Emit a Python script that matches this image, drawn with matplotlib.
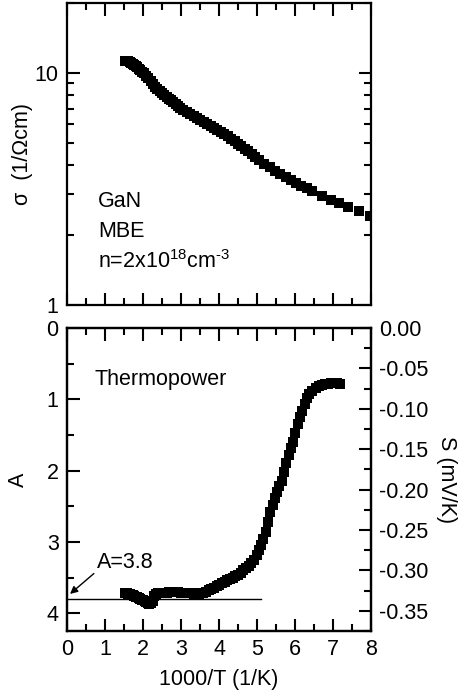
import numpy as np
import matplotlib
matplotlib.use('Agg')
import matplotlib.pyplot as plt
from matplotlib.ticker import FixedLocator, MultipleLocator, FormatStrFormatter, NullFormatter

plt.rcParams['font.family'] = ['Liberation Sans', 'DejaVu Sans']
plt.rcParams['axes.unicode_minus'] = False
plt.rcParams['mathtext.fontset'] = 'custom'
plt.rcParams['mathtext.rm'] = 'Liberation Sans'
plt.rcParams['mathtext.it'] = 'Liberation Sans'
plt.rcParams['mathtext.default'] = 'regular'

# conductividad (panel superior)
x_sig = [1.53, 1.57, 1.61, 1.65, 1.69, 1.73, 1.77, 1.81, 1.85, 1.89, 1.93, 1.97,
         2.02, 2.08, 2.14, 2.20, 2.26, 2.32, 2.38, 2.44, 2.50, 2.56, 2.62, 2.68,
         2.74, 2.80, 2.86, 2.92, 2.98,
         3.06, 3.15, 3.24, 3.33, 3.42, 3.51, 3.60, 3.69, 3.78, 3.87, 3.96, 4.05,
         4.14, 4.23, 4.32, 4.41, 4.50, 4.59, 4.68, 4.77, 4.86, 4.95,
         5.05, 5.19, 5.33, 5.47, 5.61, 5.75, 5.89, 6.03, 6.17, 6.31, 6.45,
         6.70, 6.94, 7.17, 7.40, 7.68, 7.97]
sigma = [11.3, 11.25, 11.2, 11.12, 11.03, 10.93, 10.82, 10.7, 10.57, 10.43, 10.27, 10.1,
         9.95, 9.72, 9.47, 9.2, 8.95, 8.72, 8.5, 8.32, 8.15, 8.0, 7.87, 7.75,
         7.62, 7.48, 7.33, 7.18, 7.03,
         6.9, 6.76, 6.64, 6.52, 6.4, 6.28, 6.16, 6.04, 5.92, 5.8, 5.67, 5.55,
         5.43, 5.32, 5.2, 5.08, 4.96, 4.84, 4.72, 4.6, 4.48, 4.35,
         4.2, 4.05, 3.92, 3.79, 3.67, 3.56, 3.45, 3.36, 3.27, 3.18, 3.09,
         2.95, 2.84, 2.74, 2.64, 2.54, 2.42]

# termopotencia (panel inferior)
x_A = [1.53, 1.57, 1.61, 1.65, 1.69, 1.73, 1.77, 1.81, 1.85, 1.89, 1.93, 1.97,
       2.01, 2.05, 2.09, 2.13, 2.17, 2.21, 2.25, 2.29,
       2.33, 2.39, 2.45, 2.51, 2.57, 2.63, 2.69, 2.75, 2.81, 2.87, 2.93, 2.99,
       3.05, 3.11, 3.17, 3.23, 3.29, 3.35, 3.41, 3.47, 3.53, 3.59,
       3.66, 3.73, 3.80, 3.87, 3.94, 4.01, 4.08, 4.15, 4.22, 4.29, 4.36, 4.43,
       4.50, 4.57, 4.64, 4.71, 4.78, 4.85, 4.92, 4.99,
       5.05, 5.11, 5.17, 5.23, 5.29, 5.35, 5.41, 5.47, 5.53, 5.59, 5.65, 5.71,
       5.77, 5.83, 5.89, 5.95, 6.01, 6.07, 6.13, 6.19, 6.25, 6.31,
       6.38, 6.46, 6.54, 6.62, 6.70, 6.78, 6.86, 6.94, 7.02, 7.10, 7.18]
A = [3.72, 3.72, 3.73, 3.73, 3.74, 3.75, 3.76, 3.77, 3.78, 3.79, 3.80, 3.81,
     3.82, 3.83, 3.85, 3.86, 3.87, 3.86, 3.83, 3.76,
     3.73, 3.72, 3.72, 3.71, 3.71, 3.71, 3.70, 3.70, 3.70, 3.70, 3.70, 3.71,
     3.71, 3.71, 3.72, 3.72, 3.72, 3.73, 3.73, 3.73, 3.72, 3.71,
     3.70, 3.68, 3.66, 3.64, 3.62, 3.60, 3.58, 3.56, 3.54, 3.52, 3.50, 3.48,
     3.46, 3.43, 3.40, 3.37, 3.34, 3.30, 3.25, 3.19,
     3.12, 3.05, 2.96, 2.86, 2.72, 2.58, 2.48, 2.39, 2.30, 2.22, 2.14, 2.02,
     1.90, 1.78, 1.68, 1.60, 1.47, 1.35, 1.25, 1.16, 1.06, 0.98,
     0.92, 0.88, 0.84, 0.81, 0.80, 0.79, 0.78, 0.77, 0.77, 0.77, 0.78]

A_line = 3.8
x_line = [0, 5.1]

W, H = 470, 698
fig = plt.figure(figsize=(W / 100, H / 100), dpi=100)
ax1 = fig.add_axes([67 / W, 1 - 305 / H, 304 / W, 302 / H])
ax2 = fig.add_axes([67 / W, 1 - 631 / H, 304 / W, 303 / H])

fs = 15.5

# panel superior
ax1.plot(x_sig, sigma, 's', color='black', ms=7.5, mew=0)
ax1.set_yscale('log')
ax1.set_xlim(0, 8)
ax1.set_ylim(1, 20)
ax1.xaxis.set_major_locator(MultipleLocator(1))
ax1.xaxis.set_minor_locator(MultipleLocator(0.5))
ax1.xaxis.set_major_formatter(NullFormatter())
ax1.yaxis.set_major_locator(FixedLocator([1, 10]))
ax1.yaxis.set_minor_locator(FixedLocator([2, 3, 4, 5, 6, 7, 8, 9, 20]))
ax1.yaxis.set_major_formatter(FormatStrFormatter('%d'))
ax1.yaxis.set_minor_formatter(NullFormatter())
ax1.tick_params(which='both', direction='in', top=True, right=True, width=1.5, labelsize=fs, pad=6)
ax1.tick_params(which='major', length=9)
ax1.tick_params(which='minor', length=5)
ax1.set_ylabel('σ  (1/Ωcm)', fontsize=fs, labelpad=1)
ax1.text(0.102, 0.325, 'GaN', transform=ax1.transAxes, fontsize=fs)
ax1.text(0.102, 0.225, 'MBE', transform=ax1.transAxes, fontsize=fs)
ax1.text(0.102, 0.122, 'n=2x10$^{18}$cm$^{\u2010 3}$', transform=ax1.transAxes, fontsize=fs)

# panel inferior
ax2.plot(x_A, A, 's', color='black', ms=7.5, mew=0)
ax2.plot(x_line, [A_line, A_line], color='black', lw=1)
ax2.set_xlim(0, 8)
ax2.set_ylim(4.25, 0)
ax2.xaxis.set_major_locator(MultipleLocator(1))
ax2.xaxis.set_minor_locator(MultipleLocator(0.5))
ax2.yaxis.set_major_locator(MultipleLocator(1))
ax2.yaxis.set_minor_locator(MultipleLocator(0.5))
ax2.tick_params(which='both', direction='in', top=True, right=False, width=1.5, labelsize=fs, pad=6)
ax2.tick_params(which='major', length=9)
ax2.tick_params(which='minor', length=5)
ax2.set_xlabel('1000/T (1/K)', fontsize=fs, labelpad=6)
ax2.set_ylabel('A', fontsize=fs, labelpad=13)
ax2.text(0.092, 0.812, 'Thermopower', transform=ax2.transAxes, fontsize=fs)
ax2.annotate('A=3.8', xy=(0.08, 3.73), xytext=(0.78, 3.37), fontsize=fs,
             arrowprops=dict(arrowstyle='-|>', color='black', lw=1, mutation_scale=11,
                             shrinkA=0, shrinkB=0, relpos=(0, 0.1)))

ax3 = ax2.twinx()
ax3.set_ylim(-0.375, 0)
ax3.yaxis.set_major_locator(MultipleLocator(0.05))
ax3.yaxis.set_minor_locator(MultipleLocator(0.025))
ax3.yaxis.set_major_formatter(FormatStrFormatter('%.2f'))
ax3.tick_params(which='both', direction='in', width=1.5, labelsize=fs, pad=6)
ax3.tick_params(which='major', length=9)
ax3.tick_params(which='minor', length=5)
ax3.set_ylabel('S (mV/K)', fontsize=fs, rotation=-90, labelpad=20)

for ax in (ax1, ax2, ax3):
    for s in ax.spines.values():
        s.set_linewidth(1.6)

fig.savefig('out.png', dpi=100)
